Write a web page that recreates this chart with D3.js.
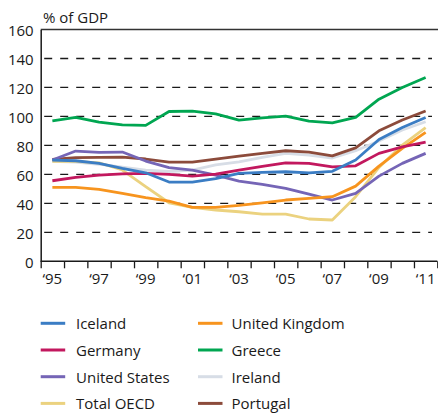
<!DOCTYPE html>
<html>
<head>
<meta charset="utf-8">
<script src="https://cdn.jsdelivr.net/npm/d3@7"></script>
<style>
  body { margin: 0; background: #fff; }
  svg { display: block; font-family: "Open Sans", sans-serif; }
</style>
</head>
<body>
<svg id="chart" width="438" height="415"></svg>
<script>
const years = d3.range(1995, 2012);
const yTicks = [0, 20, 40, 60, 80, 100, 120, 140, 160];
const xLabelYears = [1995, 1997, 1999, 2001, 2003, 2005, 2007, 2009, 2011];

const iceland   = [69.9, 69.4, 67.6, 64.1, 61.1, 54.7, 54.7, 57.0, 60.7, 61.4, 61.8, 61.1, 62.1, 69.9, 84.1, 92.4, 99.3];
const germany   = [55.6, 57.9, 59.5, 60.4, 60.7, 60.0, 58.8, 60.2, 63.0, 65.5, 68.0, 67.6, 65.2, 65.9, 74.5, 79.0, 82.3];
const usa       = [69.9, 76.1, 75.2, 75.4, 69.2, 64.6, 63.0, 59.5, 55.4, 53.1, 50.3, 46.3, 42.3, 46.9, 58.8, 67.6, 74.5];
const oecd      = [69.0, 69.0, 68.0, 63.0, 51.5, 40.4, 37.2, 35.4, 34.2, 32.6, 32.6, 29.2, 28.5, 44.6, 64.8, 80.2, 92.2];
const uk        = [51.0, 51.0, 49.7, 46.9, 43.9, 41.6, 37.2, 37.2, 38.6, 40.4, 42.3, 43.4, 44.6, 51.9, 65.7, 77.9, 89.0];
const greece    = [97.0, 99.3, 96.1, 94.2, 93.8, 103.4, 103.7, 101.8, 97.5, 99.0, 100.2, 96.8, 95.6, 99.3, 111.9, 120.0, 126.9];
const ireland   = [69.0, 68.5, 67.0, 65.0, 63.0, 62.0, 63.0, 66.5, 68.7, 71.7, 74.5, 73.3, 71.3, 76.3, 83.0, 90.6, 96.3];
const portugal  = [70.3, 71.5, 71.7, 71.9, 70.6, 68.5, 68.5, 70.6, 72.6, 74.5, 76.3, 75.3, 72.8, 78.3, 90.1, 97.5, 103.7];

const series = [
  { name: "Iceland", values: iceland, color: "#3b7dc4" },
  { name: "Germany", values: germany, color: "#c2185e" },
  { name: "United States", values: usa, color: "#7565b6" },
  { name: "Total OECD", values: oecd, color: "#ebd27f" },
  { name: "United Kingdom", values: uk, color: "#f7941e" },
  { name: "Greece", values: greece, color: "#00a651" },
  { name: "Ireland", values: ireland, color: "#d7dde6" },
  { name: "Portugal", values: portugal, color: "#8c4b3b" }
];

// draw order: pale lines underneath
const drawOrder = ["Ireland", "Total OECD", "Portugal", "United States", "United Kingdom", "Germany", "Iceland", "Greece"];

const svg = d3.select("#chart");

const plotLeft = 40.7, plotRight = 437.3, plotTop = 29.5, plotBottom = 261.3;

const x = d3.scaleLinear().domain([1994.5, 2011.5]).range([plotLeft, plotRight]);
const y = d3.scaleLinear().domain([0, 160]).range([plotBottom, plotTop]);

// dashed gridlines
svg.append("g")
  .selectAll("line")
  .data(yTicks.filter(d => d > 0 && d < 160))
  .join("line")
  .attr("x1", plotLeft + 3.5)
  .attr("x2", 432)
  .attr("y1", d => y(d))
  .attr("y2", d => y(d))
  .attr("stroke", "#1a1a1a")
  .attr("stroke-width", 1.3)
  .attr("stroke-dasharray", "8,8");

// top frame line
svg.append("line")
  .attr("x1", plotLeft).attr("x2", 438)
  .attr("y1", y(160)).attr("y2", y(160))
  .attr("stroke", "#333").attr("stroke-width", 1.3);

// y axis
const yAxis = svg.append("g")
  .attr("transform", `translate(${plotLeft},0)`)
  .call(d3.axisLeft(y).tickValues(yTicks).tickSize(0).tickPadding(7));
yAxis.select(".domain").attr("stroke", "#1a1a1a").attr("stroke-width", 1.5);
yAxis.selectAll("text")
  .attr("font-size", 15)
  .attr("font-family", "Open Sans")
  .attr("fill", "#1a1a1a")
  .attr("dy", "0.42em");

// x axis: ticks at year boundaries
const xAxis = svg.append("g")
  .attr("transform", `translate(0,${plotBottom})`)
  .call(d3.axisBottom(x)
    .tickValues(d3.range(1994.5, 2012, 1))
    .tickSize(7)
    .tickFormat(""));
xAxis.select(".domain").attr("stroke", "#1a1a1a").attr("stroke-width", 1.5).attr("d", `M${plotLeft},0H${plotRight}`);
xAxis.selectAll(".tick line").attr("stroke", "#1a1a1a").attr("stroke-width", 1.3);

// x labels centred in each year band
svg.append("g")
  .selectAll("text")
  .data(xLabelYears)
  .join("text")
  .attr("x", d => x(d))
  .attr("y", 283.5)
  .attr("text-anchor", "middle")
  .attr("font-size", 15)
  .attr("fill", "#1a1a1a")
  .text(d => "\u2018" + String(d).slice(2));

// unit label
svg.append("text")
  .attr("x", 43)
  .attr("y", 23)
  .attr("font-size", 15)
  .attr("fill", "#1a1a1a")
  .text("% of GDP");

const line = d3.line()
  .x((d, i) => x(years[i]))
  .y(d => y(d));

svg.append("g")
  .selectAll("path")
  .data(drawOrder.map(n => series.find(s => s.name === n)))
  .join("path")
  .attr("fill", "none")
  .attr("stroke", d => d.color)
  .attr("stroke-width", 2.8)
  .attr("stroke-linejoin", "round")
  .attr("d", d => line(d.values));

// legend, two columns
const legend = svg.append("g")
  .selectAll("g")
  .data(series)
  .join("g")
  .attr("transform", (d, i) => {
    const col = i < 4 ? 0 : 1;
    const row = i % 4;
    return `translate(${col === 0 ? 40.7 : 198},${323.3 + row * 26.7})`;
  });

legend.append("line")
  .attr("x1", 0).attr("x2", 24.5)
  .attr("stroke", d => d.color)
  .attr("stroke-width", 3);

legend.append("text")
  .attr("x", (d, i) => i < 4 ? 35.3 : 33.5)
  .attr("y", 6)
  .attr("font-size", 15)
  .attr("fill", "#1a1a1a")
  .text(d => d.name);
</script>
</body>
</html>
